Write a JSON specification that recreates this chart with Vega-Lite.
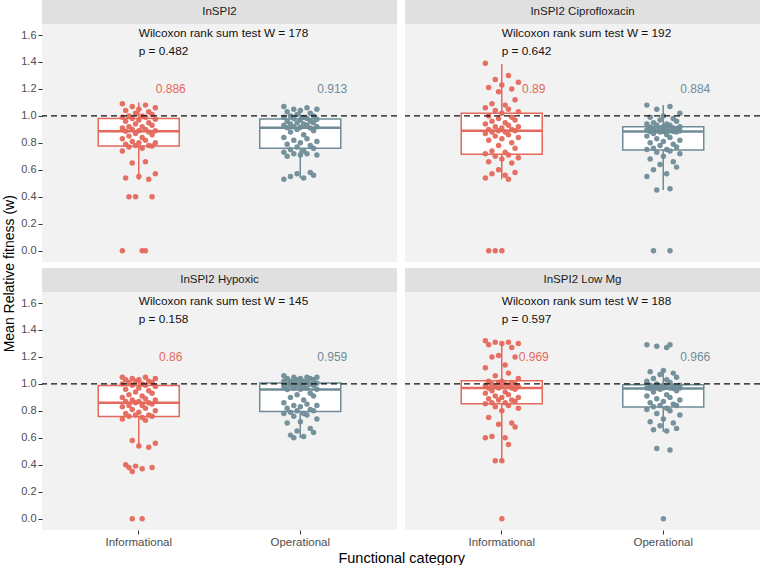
{
  "$schema": "https://vega.github.io/schema/vega-lite/v6.json",
  "padding": {"left": 2, "top": 0, "right": 2, "bottom": 0},
  "background": "white",
  "data": {"values": [
    {"k":"a","c":"InSPI2","f":"Informational","t1":"Wilcoxon rank sum test W = 178","t2":" p = 0.482"},
    {"k":"a","c":"InSPI2 Ciprofloxacin","f":"Informational","t1":"Wilcoxon rank sum test W = 192","t2":" p = 0.642"},
    {"k":"a","c":"InSPI2 Hypoxic","f":"Informational","t1":"Wilcoxon rank sum test W = 145","t2":" p = 0.158"},
    {"k":"a","c":"InSPI2 Low Mg","f":"Informational","t1":"Wilcoxon rank sum test W = 188","t2":" p = 0.597"},
    {"k":"b","c":"InSPI2","f":"Informational","lo":0.525,"q1":0.777,"med":0.886,"q3":0.98,"hi":1.1,"lab":"0.886"},
    {"k":"b","c":"InSPI2","f":"Operational","lo":0.537,"q1":0.76,"med":0.913,"q3":0.977,"hi":1.06,"lab":"0.913"},
    {"k":"b","c":"InSPI2 Ciprofloxacin","f":"Informational","lo":0.53,"q1":0.715,"med":0.89,"q3":1.02,"hi":1.385,"lab":"0.89"},
    {"k":"b","c":"InSPI2 Ciprofloxacin","f":"Operational","lo":0.45,"q1":0.747,"med":0.884,"q3":0.92,"hi":1.08,"lab":"0.884"},
    {"k":"b","c":"InSPI2 Hypoxic","f":"Informational","lo":0.529,"q1":0.759,"med":0.86,"q3":0.989,"hi":1.05,"lab":"0.86"},
    {"k":"b","c":"InSPI2 Hypoxic","f":"Operational","lo":0.599,"q1":0.796,"med":0.959,"q3":1.007,"hi":1.05,"lab":"0.959"},
    {"k":"b","c":"InSPI2 Low Mg","f":"Informational","lo":0.43,"q1":0.853,"med":0.969,"q3":1.024,"hi":1.315,"lab":"0.969"},
    {"k":"b","c":"InSPI2 Low Mg","f":"Operational","lo":0.645,"q1":0.829,"med":0.966,"q3":0.994,"hi":1.1,"lab":"0.966"},

    {"c":"InSPI2","f":"Informational","w":1.09,"j":0},{"c":"InSPI2","f":"Informational","w":1.08,"j":7},{"c":"InSPI2","f":"Informational","w":1.07,"j":3},{"c":"InSPI2","f":"Informational","w":1.06,"j":10},{"c":"InSPI2","f":"Informational","w":1.05,"j":5},{"c":"InSPI2","f":"Informational","w":1.04,"j":1},{"c":"InSPI2","f":"Informational","w":1.03,"j":8},{"c":"InSPI2","f":"Informational","w":1.02,"j":4},{"c":"InSPI2","f":"Informational","w":1.01,"j":9},{"c":"InSPI2","f":"Informational","w":1.0,"j":2},{"c":"InSPI2","f":"Informational","w":1.0,"j":6},
    {"c":"InSPI2","f":"Informational","w":0.99,"j":0},{"c":"InSPI2","f":"Informational","w":0.99,"j":7},{"c":"InSPI2","f":"Informational","w":0.98,"j":3},{"c":"InSPI2","f":"Informational","w":0.975,"j":10},{"c":"InSPI2","f":"Informational","w":0.97,"j":5},{"c":"InSPI2","f":"Informational","w":0.96,"j":1},{"c":"InSPI2","f":"Informational","w":0.95,"j":8},{"c":"InSPI2","f":"Informational","w":0.94,"j":4},{"c":"InSPI2","f":"Informational","w":0.93,"j":9},{"c":"InSPI2","f":"Informational","w":0.92,"j":2},{"c":"InSPI2","f":"Informational","w":0.92,"j":6},
    {"c":"InSPI2","f":"Informational","w":0.91,"j":0},{"c":"InSPI2","f":"Informational","w":0.9,"j":7},{"c":"InSPI2","f":"Informational","w":0.9,"j":3},{"c":"InSPI2","f":"Informational","w":0.89,"j":10},{"c":"InSPI2","f":"Informational","w":0.89,"j":5},{"c":"InSPI2","f":"Informational","w":0.886,"j":1},{"c":"InSPI2","f":"Informational","w":0.88,"j":8},{"c":"InSPI2","f":"Informational","w":0.87,"j":4},{"c":"InSPI2","f":"Informational","w":0.86,"j":9},{"c":"InSPI2","f":"Informational","w":0.85,"j":2},{"c":"InSPI2","f":"Informational","w":0.84,"j":6},
    {"c":"InSPI2","f":"Informational","w":0.83,"j":0},{"c":"InSPI2","f":"Informational","w":0.82,"j":7},{"c":"InSPI2","f":"Informational","w":0.81,"j":3},{"c":"InSPI2","f":"Informational","w":0.8,"j":10},{"c":"InSPI2","f":"Informational","w":0.8,"j":5},{"c":"InSPI2","f":"Informational","w":0.79,"j":1},{"c":"InSPI2","f":"Informational","w":0.78,"j":8},{"c":"InSPI2","f":"Informational","w":0.78,"j":4},{"c":"InSPI2","f":"Informational","w":0.777,"j":9},{"c":"InSPI2","f":"Informational","w":0.77,"j":2},{"c":"InSPI2","f":"Informational","w":0.76,"j":6},
    {"c":"InSPI2","f":"Informational","w":0.74,"j":0},{"c":"InSPI2","f":"Informational","w":0.66,"j":7},{"c":"InSPI2","f":"Informational","w":0.65,"j":3},{"c":"InSPI2","f":"Informational","w":0.57,"j":10},{"c":"InSPI2","f":"Informational","w":0.55,"j":5},{"c":"InSPI2","f":"Informational","w":0.54,"j":1},{"c":"InSPI2","f":"Informational","w":0.53,"j":8},{"c":"InSPI2","f":"Informational","w":0.4,"j":4},{"c":"InSPI2","f":"Informational","w":0.4,"j":9},{"c":"InSPI2","f":"Informational","w":0.4,"j":2},{"c":"InSPI2","f":"Informational","w":0.0,"j":6},
    {"c":"InSPI2","f":"Informational","w":0.0,"j":0},{"c":"InSPI2","f":"Informational","w":0.0,"j":7},

    {"c":"InSPI2","f":"Operational","w":1.07,"j":0},{"c":"InSPI2","f":"Operational","w":1.06,"j":7},{"c":"InSPI2","f":"Operational","w":1.05,"j":3},{"c":"InSPI2","f":"Operational","w":1.05,"j":10},{"c":"InSPI2","f":"Operational","w":1.04,"j":5},{"c":"InSPI2","f":"Operational","w":1.03,"j":1},{"c":"InSPI2","f":"Operational","w":1.02,"j":8},{"c":"InSPI2","f":"Operational","w":1.01,"j":4},{"c":"InSPI2","f":"Operational","w":1.0,"j":9},{"c":"InSPI2","f":"Operational","w":1.0,"j":2},{"c":"InSPI2","f":"Operational","w":0.99,"j":6},
    {"c":"InSPI2","f":"Operational","w":0.99,"j":0},{"c":"InSPI2","f":"Operational","w":0.98,"j":7},{"c":"InSPI2","f":"Operational","w":0.98,"j":3},{"c":"InSPI2","f":"Operational","w":0.975,"j":10},{"c":"InSPI2","f":"Operational","w":0.97,"j":5},{"c":"InSPI2","f":"Operational","w":0.96,"j":1},{"c":"InSPI2","f":"Operational","w":0.96,"j":8},{"c":"InSPI2","f":"Operational","w":0.95,"j":4},{"c":"InSPI2","f":"Operational","w":0.95,"j":9},{"c":"InSPI2","f":"Operational","w":0.94,"j":2},{"c":"InSPI2","f":"Operational","w":0.94,"j":6},
    {"c":"InSPI2","f":"Operational","w":0.93,"j":0},{"c":"InSPI2","f":"Operational","w":0.93,"j":7},{"c":"InSPI2","f":"Operational","w":0.92,"j":3},{"c":"InSPI2","f":"Operational","w":0.92,"j":10},{"c":"InSPI2","f":"Operational","w":0.915,"j":5},{"c":"InSPI2","f":"Operational","w":0.913,"j":1},{"c":"InSPI2","f":"Operational","w":0.91,"j":8},{"c":"InSPI2","f":"Operational","w":0.9,"j":4},{"c":"InSPI2","f":"Operational","w":0.89,"j":9},{"c":"InSPI2","f":"Operational","w":0.88,"j":2},{"c":"InSPI2","f":"Operational","w":0.86,"j":6},
    {"c":"InSPI2","f":"Operational","w":0.84,"j":0},{"c":"InSPI2","f":"Operational","w":0.83,"j":7},{"c":"InSPI2","f":"Operational","w":0.82,"j":3},{"c":"InSPI2","f":"Operational","w":0.81,"j":10},{"c":"InSPI2","f":"Operational","w":0.8,"j":5},{"c":"InSPI2","f":"Operational","w":0.79,"j":1},{"c":"InSPI2","f":"Operational","w":0.78,"j":8},{"c":"InSPI2","f":"Operational","w":0.77,"j":4},{"c":"InSPI2","f":"Operational","w":0.76,"j":9},{"c":"InSPI2","f":"Operational","w":0.75,"j":2},{"c":"InSPI2","f":"Operational","w":0.74,"j":6},
    {"c":"InSPI2","f":"Operational","w":0.73,"j":0},{"c":"InSPI2","f":"Operational","w":0.72,"j":7},{"c":"InSPI2","f":"Operational","w":0.72,"j":3},{"c":"InSPI2","f":"Operational","w":0.71,"j":10},{"c":"InSPI2","f":"Operational","w":0.71,"j":5},{"c":"InSPI2","f":"Operational","w":0.7,"j":1},{"c":"InSPI2","f":"Operational","w":0.58,"j":8},{"c":"InSPI2","f":"Operational","w":0.57,"j":4},{"c":"InSPI2","f":"Operational","w":0.56,"j":9},{"c":"InSPI2","f":"Operational","w":0.55,"j":2},{"c":"InSPI2","f":"Operational","w":0.54,"j":6},
    {"c":"InSPI2","f":"Operational","w":0.53,"j":0},

    {"c":"InSPI2 Ciprofloxacin","f":"Informational","w":1.39,"j":0},{"c":"InSPI2 Ciprofloxacin","f":"Informational","w":1.3,"j":7},{"c":"InSPI2 Ciprofloxacin","f":"Informational","w":1.27,"j":3},{"c":"InSPI2 Ciprofloxacin","f":"Informational","w":1.25,"j":10},{"c":"InSPI2 Ciprofloxacin","f":"Informational","w":1.23,"j":5},{"c":"InSPI2 Ciprofloxacin","f":"Informational","w":1.21,"j":1},{"c":"InSPI2 Ciprofloxacin","f":"Informational","w":1.2,"j":8},{"c":"InSPI2 Ciprofloxacin","f":"Informational","w":1.18,"j":4},{"c":"InSPI2 Ciprofloxacin","f":"Informational","w":1.12,"j":9},{"c":"InSPI2 Ciprofloxacin","f":"Informational","w":1.09,"j":2},{"c":"InSPI2 Ciprofloxacin","f":"Informational","w":1.08,"j":6},
    {"c":"InSPI2 Ciprofloxacin","f":"Informational","w":1.06,"j":0},{"c":"InSPI2 Ciprofloxacin","f":"Informational","w":1.05,"j":7},{"c":"InSPI2 Ciprofloxacin","f":"Informational","w":1.04,"j":3},{"c":"InSPI2 Ciprofloxacin","f":"Informational","w":1.03,"j":10},{"c":"InSPI2 Ciprofloxacin","f":"Informational","w":1.02,"j":5},{"c":"InSPI2 Ciprofloxacin","f":"Informational","w":1.0,"j":1},{"c":"InSPI2 Ciprofloxacin","f":"Informational","w":0.99,"j":8},{"c":"InSPI2 Ciprofloxacin","f":"Informational","w":0.98,"j":4},{"c":"InSPI2 Ciprofloxacin","f":"Informational","w":0.97,"j":9},{"c":"InSPI2 Ciprofloxacin","f":"Informational","w":0.96,"j":2},{"c":"InSPI2 Ciprofloxacin","f":"Informational","w":0.95,"j":6},
    {"c":"InSPI2 Ciprofloxacin","f":"Informational","w":0.94,"j":0},{"c":"InSPI2 Ciprofloxacin","f":"Informational","w":0.93,"j":7},{"c":"InSPI2 Ciprofloxacin","f":"Informational","w":0.92,"j":3},{"c":"InSPI2 Ciprofloxacin","f":"Informational","w":0.92,"j":10},{"c":"InSPI2 Ciprofloxacin","f":"Informational","w":0.91,"j":5},{"c":"InSPI2 Ciprofloxacin","f":"Informational","w":0.9,"j":1},{"c":"InSPI2 Ciprofloxacin","f":"Informational","w":0.9,"j":8},{"c":"InSPI2 Ciprofloxacin","f":"Informational","w":0.89,"j":4},{"c":"InSPI2 Ciprofloxacin","f":"Informational","w":0.89,"j":9},{"c":"InSPI2 Ciprofloxacin","f":"Informational","w":0.88,"j":2},{"c":"InSPI2 Ciprofloxacin","f":"Informational","w":0.88,"j":6},
    {"c":"InSPI2 Ciprofloxacin","f":"Informational","w":0.87,"j":0},{"c":"InSPI2 Ciprofloxacin","f":"Informational","w":0.86,"j":7},{"c":"InSPI2 Ciprofloxacin","f":"Informational","w":0.85,"j":3},{"c":"InSPI2 Ciprofloxacin","f":"Informational","w":0.84,"j":10},{"c":"InSPI2 Ciprofloxacin","f":"Informational","w":0.83,"j":5},{"c":"InSPI2 Ciprofloxacin","f":"Informational","w":0.82,"j":1},{"c":"InSPI2 Ciprofloxacin","f":"Informational","w":0.8,"j":8},{"c":"InSPI2 Ciprofloxacin","f":"Informational","w":0.78,"j":4},{"c":"InSPI2 Ciprofloxacin","f":"Informational","w":0.76,"j":9},{"c":"InSPI2 Ciprofloxacin","f":"Informational","w":0.74,"j":2},{"c":"InSPI2 Ciprofloxacin","f":"Informational","w":0.73,"j":6},
    {"c":"InSPI2 Ciprofloxacin","f":"Informational","w":0.72,"j":0},{"c":"InSPI2 Ciprofloxacin","f":"Informational","w":0.71,"j":7},{"c":"InSPI2 Ciprofloxacin","f":"Informational","w":0.7,"j":3},{"c":"InSPI2 Ciprofloxacin","f":"Informational","w":0.69,"j":10},{"c":"InSPI2 Ciprofloxacin","f":"Informational","w":0.68,"j":5},{"c":"InSPI2 Ciprofloxacin","f":"Informational","w":0.66,"j":1},{"c":"InSPI2 Ciprofloxacin","f":"Informational","w":0.65,"j":8},{"c":"InSPI2 Ciprofloxacin","f":"Informational","w":0.6,"j":4},{"c":"InSPI2 Ciprofloxacin","f":"Informational","w":0.58,"j":9},{"c":"InSPI2 Ciprofloxacin","f":"Informational","w":0.57,"j":2},{"c":"InSPI2 Ciprofloxacin","f":"Informational","w":0.56,"j":6},
    {"c":"InSPI2 Ciprofloxacin","f":"Informational","w":0.54,"j":0},{"c":"InSPI2 Ciprofloxacin","f":"Informational","w":0.53,"j":7},{"c":"InSPI2 Ciprofloxacin","f":"Informational","w":0.0,"j":3},{"c":"InSPI2 Ciprofloxacin","f":"Informational","w":0.0,"j":1},{"c":"InSPI2 Ciprofloxacin","f":"Informational","w":0.0,"j":5},

    {"c":"InSPI2 Ciprofloxacin","f":"Operational","w":1.08,"j":0},{"c":"InSPI2 Ciprofloxacin","f":"Operational","w":1.07,"j":7},{"c":"InSPI2 Ciprofloxacin","f":"Operational","w":1.05,"j":3},{"c":"InSPI2 Ciprofloxacin","f":"Operational","w":1.02,"j":10},{"c":"InSPI2 Ciprofloxacin","f":"Operational","w":1.0,"j":5},{"c":"InSPI2 Ciprofloxacin","f":"Operational","w":0.99,"j":1},{"c":"InSPI2 Ciprofloxacin","f":"Operational","w":0.98,"j":8},{"c":"InSPI2 Ciprofloxacin","f":"Operational","w":0.97,"j":4},{"c":"InSPI2 Ciprofloxacin","f":"Operational","w":0.96,"j":9},{"c":"InSPI2 Ciprofloxacin","f":"Operational","w":0.95,"j":2},{"c":"InSPI2 Ciprofloxacin","f":"Operational","w":0.94,"j":6},
    {"c":"InSPI2 Ciprofloxacin","f":"Operational","w":0.94,"j":0},{"c":"InSPI2 Ciprofloxacin","f":"Operational","w":0.93,"j":7},{"c":"InSPI2 Ciprofloxacin","f":"Operational","w":0.93,"j":3},{"c":"InSPI2 Ciprofloxacin","f":"Operational","w":0.92,"j":10},{"c":"InSPI2 Ciprofloxacin","f":"Operational","w":0.92,"j":5},{"c":"InSPI2 Ciprofloxacin","f":"Operational","w":0.915,"j":1},{"c":"InSPI2 Ciprofloxacin","f":"Operational","w":0.91,"j":8},{"c":"InSPI2 Ciprofloxacin","f":"Operational","w":0.91,"j":4},{"c":"InSPI2 Ciprofloxacin","f":"Operational","w":0.905,"j":9},{"c":"InSPI2 Ciprofloxacin","f":"Operational","w":0.9,"j":2},{"c":"InSPI2 Ciprofloxacin","f":"Operational","w":0.9,"j":6},
    {"c":"InSPI2 Ciprofloxacin","f":"Operational","w":0.895,"j":0},{"c":"InSPI2 Ciprofloxacin","f":"Operational","w":0.89,"j":7},{"c":"InSPI2 Ciprofloxacin","f":"Operational","w":0.89,"j":3},{"c":"InSPI2 Ciprofloxacin","f":"Operational","w":0.89,"j":10},{"c":"InSPI2 Ciprofloxacin","f":"Operational","w":0.885,"j":5},{"c":"InSPI2 Ciprofloxacin","f":"Operational","w":0.885,"j":1},{"c":"InSPI2 Ciprofloxacin","f":"Operational","w":0.884,"j":8},{"c":"InSPI2 Ciprofloxacin","f":"Operational","w":0.88,"j":4},{"c":"InSPI2 Ciprofloxacin","f":"Operational","w":0.88,"j":9},{"c":"InSPI2 Ciprofloxacin","f":"Operational","w":0.87,"j":2},{"c":"InSPI2 Ciprofloxacin","f":"Operational","w":0.86,"j":6},
    {"c":"InSPI2 Ciprofloxacin","f":"Operational","w":0.85,"j":0},{"c":"InSPI2 Ciprofloxacin","f":"Operational","w":0.84,"j":7},{"c":"InSPI2 Ciprofloxacin","f":"Operational","w":0.83,"j":3},{"c":"InSPI2 Ciprofloxacin","f":"Operational","w":0.82,"j":10},{"c":"InSPI2 Ciprofloxacin","f":"Operational","w":0.81,"j":5},{"c":"InSPI2 Ciprofloxacin","f":"Operational","w":0.8,"j":1},{"c":"InSPI2 Ciprofloxacin","f":"Operational","w":0.79,"j":8},{"c":"InSPI2 Ciprofloxacin","f":"Operational","w":0.78,"j":4},{"c":"InSPI2 Ciprofloxacin","f":"Operational","w":0.77,"j":9},{"c":"InSPI2 Ciprofloxacin","f":"Operational","w":0.76,"j":2},{"c":"InSPI2 Ciprofloxacin","f":"Operational","w":0.75,"j":6},
    {"c":"InSPI2 Ciprofloxacin","f":"Operational","w":0.75,"j":0},{"c":"InSPI2 Ciprofloxacin","f":"Operational","w":0.74,"j":7},{"c":"InSPI2 Ciprofloxacin","f":"Operational","w":0.73,"j":3},{"c":"InSPI2 Ciprofloxacin","f":"Operational","w":0.72,"j":10},{"c":"InSPI2 Ciprofloxacin","f":"Operational","w":0.7,"j":5},{"c":"InSPI2 Ciprofloxacin","f":"Operational","w":0.68,"j":1},{"c":"InSPI2 Ciprofloxacin","f":"Operational","w":0.66,"j":8},{"c":"InSPI2 Ciprofloxacin","f":"Operational","w":0.64,"j":4},{"c":"InSPI2 Ciprofloxacin","f":"Operational","w":0.62,"j":9},{"c":"InSPI2 Ciprofloxacin","f":"Operational","w":0.6,"j":2},{"c":"InSPI2 Ciprofloxacin","f":"Operational","w":0.57,"j":6},
    {"c":"InSPI2 Ciprofloxacin","f":"Operational","w":0.55,"j":0},{"c":"InSPI2 Ciprofloxacin","f":"Operational","w":0.46,"j":7},{"c":"InSPI2 Ciprofloxacin","f":"Operational","w":0.45,"j":3},{"c":"InSPI2 Ciprofloxacin","f":"Operational","w":0.0,"j":2},{"c":"InSPI2 Ciprofloxacin","f":"Operational","w":0.0,"j":7},

    {"c":"InSPI2 Hypoxic","f":"Informational","w":1.05,"j":0},{"c":"InSPI2 Hypoxic","f":"Informational","w":1.05,"j":7},{"c":"InSPI2 Hypoxic","f":"Informational","w":1.04,"j":3},{"c":"InSPI2 Hypoxic","f":"Informational","w":1.04,"j":10},{"c":"InSPI2 Hypoxic","f":"Informational","w":1.03,"j":5},{"c":"InSPI2 Hypoxic","f":"Informational","w":1.03,"j":1},{"c":"InSPI2 Hypoxic","f":"Informational","w":1.02,"j":8},{"c":"InSPI2 Hypoxic","f":"Informational","w":1.02,"j":4},{"c":"InSPI2 Hypoxic","f":"Informational","w":1.01,"j":9},{"c":"InSPI2 Hypoxic","f":"Informational","w":1.01,"j":2},{"c":"InSPI2 Hypoxic","f":"Informational","w":1.0,"j":6},
    {"c":"InSPI2 Hypoxic","f":"Informational","w":1.0,"j":0},{"c":"InSPI2 Hypoxic","f":"Informational","w":0.99,"j":7},{"c":"InSPI2 Hypoxic","f":"Informational","w":0.99,"j":3},{"c":"InSPI2 Hypoxic","f":"Informational","w":0.98,"j":10},{"c":"InSPI2 Hypoxic","f":"Informational","w":0.97,"j":5},{"c":"InSPI2 Hypoxic","f":"Informational","w":0.96,"j":1},{"c":"InSPI2 Hypoxic","f":"Informational","w":0.95,"j":8},{"c":"InSPI2 Hypoxic","f":"Informational","w":0.94,"j":4},{"c":"InSPI2 Hypoxic","f":"Informational","w":0.93,"j":9},{"c":"InSPI2 Hypoxic","f":"Informational","w":0.92,"j":2},{"c":"InSPI2 Hypoxic","f":"Informational","w":0.91,"j":6},
    {"c":"InSPI2 Hypoxic","f":"Informational","w":0.9,"j":0},{"c":"InSPI2 Hypoxic","f":"Informational","w":0.89,"j":7},{"c":"InSPI2 Hypoxic","f":"Informational","w":0.88,"j":3},{"c":"InSPI2 Hypoxic","f":"Informational","w":0.88,"j":10},{"c":"InSPI2 Hypoxic","f":"Informational","w":0.87,"j":5},{"c":"InSPI2 Hypoxic","f":"Informational","w":0.87,"j":1},{"c":"InSPI2 Hypoxic","f":"Informational","w":0.86,"j":8},{"c":"InSPI2 Hypoxic","f":"Informational","w":0.86,"j":4},{"c":"InSPI2 Hypoxic","f":"Informational","w":0.85,"j":9},{"c":"InSPI2 Hypoxic","f":"Informational","w":0.84,"j":2},{"c":"InSPI2 Hypoxic","f":"Informational","w":0.84,"j":6},
    {"c":"InSPI2 Hypoxic","f":"Informational","w":0.83,"j":0},{"c":"InSPI2 Hypoxic","f":"Informational","w":0.82,"j":7},{"c":"InSPI2 Hypoxic","f":"Informational","w":0.81,"j":3},{"c":"InSPI2 Hypoxic","f":"Informational","w":0.8,"j":10},{"c":"InSPI2 Hypoxic","f":"Informational","w":0.79,"j":5},{"c":"InSPI2 Hypoxic","f":"Informational","w":0.78,"j":1},{"c":"InSPI2 Hypoxic","f":"Informational","w":0.77,"j":8},{"c":"InSPI2 Hypoxic","f":"Informational","w":0.77,"j":4},{"c":"InSPI2 Hypoxic","f":"Informational","w":0.76,"j":9},{"c":"InSPI2 Hypoxic","f":"Informational","w":0.76,"j":2},{"c":"InSPI2 Hypoxic","f":"Informational","w":0.75,"j":6},
    {"c":"InSPI2 Hypoxic","f":"Informational","w":0.74,"j":0},{"c":"InSPI2 Hypoxic","f":"Informational","w":0.73,"j":7},{"c":"InSPI2 Hypoxic","f":"Informational","w":0.58,"j":3},{"c":"InSPI2 Hypoxic","f":"Informational","w":0.56,"j":10},{"c":"InSPI2 Hypoxic","f":"Informational","w":0.54,"j":5},{"c":"InSPI2 Hypoxic","f":"Informational","w":0.53,"j":8},{"c":"InSPI2 Hypoxic","f":"Informational","w":0.4,"j":1},{"c":"InSPI2 Hypoxic","f":"Informational","w":0.39,"j":4},{"c":"InSPI2 Hypoxic","f":"Informational","w":0.38,"j":9},{"c":"InSPI2 Hypoxic","f":"Informational","w":0.38,"j":2},{"c":"InSPI2 Hypoxic","f":"Informational","w":0.37,"j":6},
    {"c":"InSPI2 Hypoxic","f":"Informational","w":0.35,"j":3},{"c":"InSPI2 Hypoxic","f":"Informational","w":0.0,"j":3},{"c":"InSPI2 Hypoxic","f":"Informational","w":0.0,"j":6},

    {"c":"InSPI2 Hypoxic","f":"Operational","w":1.06,"j":0},{"c":"InSPI2 Hypoxic","f":"Operational","w":1.05,"j":7},{"c":"InSPI2 Hypoxic","f":"Operational","w":1.05,"j":3},{"c":"InSPI2 Hypoxic","f":"Operational","w":1.05,"j":10},{"c":"InSPI2 Hypoxic","f":"Operational","w":1.04,"j":5},{"c":"InSPI2 Hypoxic","f":"Operational","w":1.04,"j":1},{"c":"InSPI2 Hypoxic","f":"Operational","w":1.04,"j":8},{"c":"InSPI2 Hypoxic","f":"Operational","w":1.03,"j":4},{"c":"InSPI2 Hypoxic","f":"Operational","w":1.03,"j":9},{"c":"InSPI2 Hypoxic","f":"Operational","w":1.02,"j":2},{"c":"InSPI2 Hypoxic","f":"Operational","w":1.02,"j":6},
    {"c":"InSPI2 Hypoxic","f":"Operational","w":1.02,"j":0},{"c":"InSPI2 Hypoxic","f":"Operational","w":1.01,"j":7},{"c":"InSPI2 Hypoxic","f":"Operational","w":1.01,"j":3},{"c":"InSPI2 Hypoxic","f":"Operational","w":1.005,"j":10},{"c":"InSPI2 Hypoxic","f":"Operational","w":1.0,"j":5},{"c":"InSPI2 Hypoxic","f":"Operational","w":1.0,"j":1},{"c":"InSPI2 Hypoxic","f":"Operational","w":1.0,"j":8},{"c":"InSPI2 Hypoxic","f":"Operational","w":0.99,"j":4},{"c":"InSPI2 Hypoxic","f":"Operational","w":0.99,"j":9},{"c":"InSPI2 Hypoxic","f":"Operational","w":0.99,"j":2},{"c":"InSPI2 Hypoxic","f":"Operational","w":0.98,"j":6},
    {"c":"InSPI2 Hypoxic","f":"Operational","w":0.98,"j":0},{"c":"InSPI2 Hypoxic","f":"Operational","w":0.97,"j":7},{"c":"InSPI2 Hypoxic","f":"Operational","w":0.97,"j":3},{"c":"InSPI2 Hypoxic","f":"Operational","w":0.96,"j":10},{"c":"InSPI2 Hypoxic","f":"Operational","w":0.96,"j":5},{"c":"InSPI2 Hypoxic","f":"Operational","w":0.959,"j":1},{"c":"InSPI2 Hypoxic","f":"Operational","w":0.93,"j":8},{"c":"InSPI2 Hypoxic","f":"Operational","w":0.92,"j":4},{"c":"InSPI2 Hypoxic","f":"Operational","w":0.91,"j":9},{"c":"InSPI2 Hypoxic","f":"Operational","w":0.9,"j":2},{"c":"InSPI2 Hypoxic","f":"Operational","w":0.88,"j":6},
    {"c":"InSPI2 Hypoxic","f":"Operational","w":0.86,"j":0},{"c":"InSPI2 Hypoxic","f":"Operational","w":0.85,"j":7},{"c":"InSPI2 Hypoxic","f":"Operational","w":0.84,"j":3},{"c":"InSPI2 Hypoxic","f":"Operational","w":0.84,"j":10},{"c":"InSPI2 Hypoxic","f":"Operational","w":0.83,"j":5},{"c":"InSPI2 Hypoxic","f":"Operational","w":0.82,"j":1},{"c":"InSPI2 Hypoxic","f":"Operational","w":0.81,"j":8},{"c":"InSPI2 Hypoxic","f":"Operational","w":0.8,"j":4},{"c":"InSPI2 Hypoxic","f":"Operational","w":0.8,"j":9},{"c":"InSPI2 Hypoxic","f":"Operational","w":0.79,"j":2},{"c":"InSPI2 Hypoxic","f":"Operational","w":0.78,"j":6},
    {"c":"InSPI2 Hypoxic","f":"Operational","w":0.78,"j":0},{"c":"InSPI2 Hypoxic","f":"Operational","w":0.77,"j":7},{"c":"InSPI2 Hypoxic","f":"Operational","w":0.76,"j":3},{"c":"InSPI2 Hypoxic","f":"Operational","w":0.74,"j":10},{"c":"InSPI2 Hypoxic","f":"Operational","w":0.72,"j":5},{"c":"InSPI2 Hypoxic","f":"Operational","w":0.71,"j":1},{"c":"InSPI2 Hypoxic","f":"Operational","w":0.67,"j":8},{"c":"InSPI2 Hypoxic","f":"Operational","w":0.65,"j":4},{"c":"InSPI2 Hypoxic","f":"Operational","w":0.64,"j":9},{"c":"InSPI2 Hypoxic","f":"Operational","w":0.62,"j":2},{"c":"InSPI2 Hypoxic","f":"Operational","w":0.61,"j":6},
    {"c":"InSPI2 Hypoxic","f":"Operational","w":0.6,"j":3},

    {"c":"InSPI2 Low Mg","f":"Informational","w":1.32,"j":0},{"c":"InSPI2 Low Mg","f":"Informational","w":1.31,"j":7},{"c":"InSPI2 Low Mg","f":"Informational","w":1.31,"j":3},{"c":"InSPI2 Low Mg","f":"Informational","w":1.3,"j":10},{"c":"InSPI2 Low Mg","f":"Informational","w":1.3,"j":5},{"c":"InSPI2 Low Mg","f":"Informational","w":1.29,"j":1},{"c":"InSPI2 Low Mg","f":"Informational","w":1.27,"j":8},{"c":"InSPI2 Low Mg","f":"Informational","w":1.21,"j":4},{"c":"InSPI2 Low Mg","f":"Informational","w":1.2,"j":9},{"c":"InSPI2 Low Mg","f":"Informational","w":1.2,"j":2},{"c":"InSPI2 Low Mg","f":"Informational","w":1.14,"j":6},
    {"c":"InSPI2 Low Mg","f":"Informational","w":1.12,"j":0},{"c":"InSPI2 Low Mg","f":"Informational","w":1.08,"j":7},{"c":"InSPI2 Low Mg","f":"Informational","w":1.06,"j":3},{"c":"InSPI2 Low Mg","f":"Informational","w":1.04,"j":10},{"c":"InSPI2 Low Mg","f":"Informational","w":1.02,"j":5},{"c":"InSPI2 Low Mg","f":"Informational","w":1.02,"j":1},{"c":"InSPI2 Low Mg","f":"Informational","w":1.01,"j":8},{"c":"InSPI2 Low Mg","f":"Informational","w":1.01,"j":4},{"c":"InSPI2 Low Mg","f":"Informational","w":1.0,"j":9},{"c":"InSPI2 Low Mg","f":"Informational","w":1.0,"j":2},{"c":"InSPI2 Low Mg","f":"Informational","w":1.0,"j":6},
    {"c":"InSPI2 Low Mg","f":"Informational","w":0.99,"j":0},{"c":"InSPI2 Low Mg","f":"Informational","w":0.99,"j":7},{"c":"InSPI2 Low Mg","f":"Informational","w":0.98,"j":3},{"c":"InSPI2 Low Mg","f":"Informational","w":0.98,"j":10},{"c":"InSPI2 Low Mg","f":"Informational","w":0.98,"j":5},{"c":"InSPI2 Low Mg","f":"Informational","w":0.97,"j":1},{"c":"InSPI2 Low Mg","f":"Informational","w":0.97,"j":8},{"c":"InSPI2 Low Mg","f":"Informational","w":0.969,"j":4},{"c":"InSPI2 Low Mg","f":"Informational","w":0.96,"j":9},{"c":"InSPI2 Low Mg","f":"Informational","w":0.95,"j":2},{"c":"InSPI2 Low Mg","f":"Informational","w":0.94,"j":6},
    {"c":"InSPI2 Low Mg","f":"Informational","w":0.93,"j":0},{"c":"InSPI2 Low Mg","f":"Informational","w":0.92,"j":7},{"c":"InSPI2 Low Mg","f":"Informational","w":0.91,"j":3},{"c":"InSPI2 Low Mg","f":"Informational","w":0.9,"j":10},{"c":"InSPI2 Low Mg","f":"Informational","w":0.9,"j":5},{"c":"InSPI2 Low Mg","f":"Informational","w":0.89,"j":1},{"c":"InSPI2 Low Mg","f":"Informational","w":0.88,"j":8},{"c":"InSPI2 Low Mg","f":"Informational","w":0.88,"j":4},{"c":"InSPI2 Low Mg","f":"Informational","w":0.87,"j":9},{"c":"InSPI2 Low Mg","f":"Informational","w":0.86,"j":2},{"c":"InSPI2 Low Mg","f":"Informational","w":0.86,"j":6},
    {"c":"InSPI2 Low Mg","f":"Informational","w":0.853,"j":0},{"c":"InSPI2 Low Mg","f":"Informational","w":0.84,"j":7},{"c":"InSPI2 Low Mg","f":"Informational","w":0.83,"j":3},{"c":"InSPI2 Low Mg","f":"Informational","w":0.82,"j":10},{"c":"InSPI2 Low Mg","f":"Informational","w":0.8,"j":5},{"c":"InSPI2 Low Mg","f":"Informational","w":0.75,"j":1},{"c":"InSPI2 Low Mg","f":"Informational","w":0.71,"j":8},{"c":"InSPI2 Low Mg","f":"Informational","w":0.7,"j":4},{"c":"InSPI2 Low Mg","f":"Informational","w":0.68,"j":9},{"c":"InSPI2 Low Mg","f":"Informational","w":0.61,"j":2},{"c":"InSPI2 Low Mg","f":"Informational","w":0.6,"j":6},
    {"c":"InSPI2 Low Mg","f":"Informational","w":0.6,"j":0},{"c":"InSPI2 Low Mg","f":"Informational","w":0.55,"j":7},{"c":"InSPI2 Low Mg","f":"Informational","w":0.43,"j":3},{"c":"InSPI2 Low Mg","f":"Informational","w":0.43,"j":5},{"c":"InSPI2 Low Mg","f":"Informational","w":0.0,"j":5},

    {"c":"InSPI2 Low Mg","f":"Operational","w":1.29,"j":0},{"c":"InSPI2 Low Mg","f":"Operational","w":1.29,"j":7},{"c":"InSPI2 Low Mg","f":"Operational","w":1.28,"j":3},{"c":"InSPI2 Low Mg","f":"Operational","w":1.27,"j":6},{"c":"InSPI2 Low Mg","f":"Operational","w":1.1,"j":5},{"c":"InSPI2 Low Mg","f":"Operational","w":1.09,"j":1},{"c":"InSPI2 Low Mg","f":"Operational","w":1.08,"j":8},{"c":"InSPI2 Low Mg","f":"Operational","w":1.07,"j":4},{"c":"InSPI2 Low Mg","f":"Operational","w":1.05,"j":9},{"c":"InSPI2 Low Mg","f":"Operational","w":1.04,"j":2},{"c":"InSPI2 Low Mg","f":"Operational","w":1.03,"j":6},
    {"c":"InSPI2 Low Mg","f":"Operational","w":1.02,"j":0},{"c":"InSPI2 Low Mg","f":"Operational","w":1.01,"j":7},{"c":"InSPI2 Low Mg","f":"Operational","w":1.0,"j":3},{"c":"InSPI2 Low Mg","f":"Operational","w":0.99,"j":10},{"c":"InSPI2 Low Mg","f":"Operational","w":0.99,"j":5},{"c":"InSPI2 Low Mg","f":"Operational","w":0.99,"j":1},{"c":"InSPI2 Low Mg","f":"Operational","w":0.985,"j":8},{"c":"InSPI2 Low Mg","f":"Operational","w":0.98,"j":4},{"c":"InSPI2 Low Mg","f":"Operational","w":0.98,"j":9},{"c":"InSPI2 Low Mg","f":"Operational","w":0.98,"j":2},{"c":"InSPI2 Low Mg","f":"Operational","w":0.975,"j":6},
    {"c":"InSPI2 Low Mg","f":"Operational","w":0.97,"j":0},{"c":"InSPI2 Low Mg","f":"Operational","w":0.97,"j":7},{"c":"InSPI2 Low Mg","f":"Operational","w":0.97,"j":3},{"c":"InSPI2 Low Mg","f":"Operational","w":0.97,"j":10},{"c":"InSPI2 Low Mg","f":"Operational","w":0.97,"j":5},{"c":"InSPI2 Low Mg","f":"Operational","w":0.966,"j":1},{"c":"InSPI2 Low Mg","f":"Operational","w":0.966,"j":8},{"c":"InSPI2 Low Mg","f":"Operational","w":0.96,"j":4},{"c":"InSPI2 Low Mg","f":"Operational","w":0.95,"j":9},{"c":"InSPI2 Low Mg","f":"Operational","w":0.94,"j":2},{"c":"InSPI2 Low Mg","f":"Operational","w":0.92,"j":6},
    {"c":"InSPI2 Low Mg","f":"Operational","w":0.91,"j":0},{"c":"InSPI2 Low Mg","f":"Operational","w":0.9,"j":7},{"c":"InSPI2 Low Mg","f":"Operational","w":0.89,"j":3},{"c":"InSPI2 Low Mg","f":"Operational","w":0.88,"j":10},{"c":"InSPI2 Low Mg","f":"Operational","w":0.87,"j":5},{"c":"InSPI2 Low Mg","f":"Operational","w":0.86,"j":1},{"c":"InSPI2 Low Mg","f":"Operational","w":0.85,"j":8},{"c":"InSPI2 Low Mg","f":"Operational","w":0.84,"j":4},{"c":"InSPI2 Low Mg","f":"Operational","w":0.84,"j":9},{"c":"InSPI2 Low Mg","f":"Operational","w":0.83,"j":2},{"c":"InSPI2 Low Mg","f":"Operational","w":0.82,"j":6},
    {"c":"InSPI2 Low Mg","f":"Operational","w":0.81,"j":0},{"c":"InSPI2 Low Mg","f":"Operational","w":0.8,"j":7},{"c":"InSPI2 Low Mg","f":"Operational","w":0.78,"j":3},{"c":"InSPI2 Low Mg","f":"Operational","w":0.77,"j":10},{"c":"InSPI2 Low Mg","f":"Operational","w":0.74,"j":5},{"c":"InSPI2 Low Mg","f":"Operational","w":0.72,"j":1},{"c":"InSPI2 Low Mg","f":"Operational","w":0.71,"j":8},{"c":"InSPI2 Low Mg","f":"Operational","w":0.69,"j":4},{"c":"InSPI2 Low Mg","f":"Operational","w":0.67,"j":9},{"c":"InSPI2 Low Mg","f":"Operational","w":0.66,"j":2},{"c":"InSPI2 Low Mg","f":"Operational","w":0.65,"j":6},
    {"c":"InSPI2 Low Mg","f":"Operational","w":0.52,"j":3},{"c":"InSPI2 Low Mg","f":"Operational","w":0.51,"j":7},{"c":"InSPI2 Low Mg","f":"Operational","w":0.0,"j":5}
  ]},
  "title": {"text": "Functional category", "orient": "bottom", "anchor": "middle", "dx": 20, "offset": 4, "fontSize": 14.5, "fontWeight": "normal", "color": "#000000"},
  "vconcat": [
    {
      "title": {"text": "Mean Relative fitness (w)", "orient": "left", "anchor": "middle", "offset": 4, "fontSize": 14, "fontWeight": "normal", "color": "#000000"},
      "spacing": 6,
      "vconcat": [
        {
          "spacing": 6,
          "hconcat": [
            {
              "width": 355, "height": 262,
              "transform": [{"filter": "datum.c === 'InSPI2'"}],
              "resolve": {"scale": {"xOffset": "independent"}},
              "layer": [
                {"transform": [{"filter": "datum.k === 'a'"}], "mark": {"type": "rect", "fill": "#E0E0E0"},
                 "encoding": {"y": {"datum": 1.682, "type": "quantitative", "axis": {"title": null, "values": [0, 0.2, 0.4, 0.6, 0.8, 1, 1.2, 1.4, 1.6], "format": ".1f"}}, "y2": {"datum": 1.86}}},
                {"transform": [{"filter": "datum.k === 'b'"}], "mark": {"type": "rule", "strokeWidth": 1.5},
                 "encoding": {"x": {"field": "f", "type": "nominal", "axis": null}, "y": {"field": "lo", "type": "quantitative", "axis": {"title": null, "values": [0, 0.2, 0.4, 0.6, 0.8, 1, 1.2, 1.4, 1.6], "format": ".1f"}}, "y2": {"field": "hi"}, "color": {"field": "f", "type": "nominal", "legend": null}}},
                {"transform": [{"filter": "datum.k === 'b'"}], "mark": {"type": "bar", "fill": "white", "strokeWidth": 1.5, "width": 81},
                 "encoding": {"x": {"field": "f", "type": "nominal", "axis": null}, "y": {"field": "q1", "type": "quantitative", "axis": {"title": null, "values": [0, 0.2, 0.4, 0.6, 0.8, 1, 1.2, 1.4, 1.6], "format": ".1f"}}, "y2": {"field": "q3"}, "stroke": {"field": "f", "type": "nominal", "legend": null}}},
                {"transform": [{"filter": "datum.k === 'b'"}], "mark": {"type": "bar", "fill": null, "strokeWidth": 2.5, "width": 81},
                 "encoding": {"x": {"field": "f", "type": "nominal", "axis": null}, "y": {"field": "med", "type": "quantitative", "axis": {"title": null, "values": [0, 0.2, 0.4, 0.6, 0.8, 1, 1.2, 1.4, 1.6], "format": ".1f"}}, "y2": {"field": "med"}, "stroke": {"field": "f", "type": "nominal", "legend": null}}},
                {"transform": [{"filter": "isValid(datum.w)"}], "mark": {"type": "circle", "size": 30, "opacity": 0.95},
                 "encoding": {
                   "x": {"field": "f", "type": "nominal", "axis": null, "scale": {"type": "band", "domain": ["Informational", "Operational"], "paddingInner": 0.5, "paddingOuter": 0.349}},
                   "xOffset": {"field": "j", "type": "quantitative", "scale": {"domain": [0, 10], "range": [24, 57]}},
                   "y": {"field": "w", "type": "quantitative", "scale": {"domain": [-0.084, 1.86], "nice": false, "zero": false},
                         "axis": {"title": null, "values": [0, 0.2, 0.4, 0.6, 0.8, 1, 1.2, 1.4, 1.6], "format": ".1f"}},
                   "color": {"field": "f", "type": "nominal", "legend": null}}},
                {"transform": [{"filter": "datum.k === 'a'"}], "mark": {"type": "rule", "color": "#111111", "strokeWidth": 1.3, "strokeDash": [6, 4]},
                 "encoding": {"y": {"datum": 1, "type": "quantitative", "axis": {"title": null, "values": [0, 0.2, 0.4, 0.6, 0.8, 1, 1.2, 1.4, 1.6], "format": ".1f"}}}},
                {"transform": [{"filter": "datum.k === 'b'"}], "mark": {"type": "text", "fontSize": 12, "dx": 32, "align": "center", "baseline": "middle"},
                 "encoding": {"x": {"field": "f", "type": "nominal", "axis": null}, "y": {"datum": 1.2, "type": "quantitative", "axis": {"title": null, "values": [0, 0.2, 0.4, 0.6, 0.8, 1, 1.2, 1.4, 1.6], "format": ".1f"}}, "text": {"field": "lab"}, "color": {"field": "f", "type": "nominal", "legend": null}}},
                {"transform": [{"filter": "datum.k === 'a'"}], "mark": {"type": "text", "fontSize": 11.8, "align": "left", "baseline": "middle", "color": "#111111"},
                 "encoding": {"x": {"field": "f", "type": "nominal", "axis": null}, "y": {"datum": 1.615, "type": "quantitative", "axis": {"title": null, "values": [0, 0.2, 0.4, 0.6, 0.8, 1, 1.2, 1.4, 1.6], "format": ".1f"}}, "text": {"field": "t1"}}},
                {"transform": [{"filter": "datum.k === 'a'"}], "mark": {"type": "text", "fontSize": 11.8, "align": "left", "baseline": "middle", "color": "#111111"},
                 "encoding": {"x": {"field": "f", "type": "nominal", "axis": null}, "y": {"datum": 1.484, "type": "quantitative", "axis": {"title": null, "values": [0, 0.2, 0.4, 0.6, 0.8, 1, 1.2, 1.4, 1.6], "format": ".1f"}}, "text": {"field": "t2"}}},
                {"transform": [{"filter": "datum.k === 'a'"}], "mark": {"type": "text", "fontSize": 11.5, "align": "center", "baseline": "middle", "color": "#1A1A1A"},
                 "encoding": {"y": {"datum": 1.771, "type": "quantitative", "axis": {"title": null, "values": [0, 0.2, 0.4, 0.6, 0.8, 1, 1.2, 1.4, 1.6], "format": ".1f"}}, "text": {"field": "c"}}}
              ]
            },
            {
              "width": 355, "height": 262,
              "transform": [{"filter": "datum.c === 'InSPI2 Ciprofloxacin'"}],
              "resolve": {"scale": {"xOffset": "independent"}},
              "layer": [
                {"transform": [{"filter": "datum.k === 'a'"}], "mark": {"type": "rect", "fill": "#E0E0E0"},
                 "encoding": {"y": {"datum": 1.682, "type": "quantitative", "axis": null}, "y2": {"datum": 1.86}}},
                {"transform": [{"filter": "datum.k === 'b'"}], "mark": {"type": "rule", "strokeWidth": 1.5},
                 "encoding": {"x": {"field": "f", "type": "nominal", "axis": null}, "y": {"field": "lo", "type": "quantitative", "axis": null}, "y2": {"field": "hi"}, "color": {"field": "f", "type": "nominal", "legend": null}}},
                {"transform": [{"filter": "datum.k === 'b'"}], "mark": {"type": "bar", "fill": "white", "strokeWidth": 1.5, "width": 81},
                 "encoding": {"x": {"field": "f", "type": "nominal", "axis": null}, "y": {"field": "q1", "type": "quantitative", "axis": null}, "y2": {"field": "q3"}, "stroke": {"field": "f", "type": "nominal", "legend": null}}},
                {"transform": [{"filter": "datum.k === 'b'"}], "mark": {"type": "bar", "fill": null, "strokeWidth": 2.5, "width": 81},
                 "encoding": {"x": {"field": "f", "type": "nominal", "axis": null}, "y": {"field": "med", "type": "quantitative", "axis": null}, "y2": {"field": "med"}, "stroke": {"field": "f", "type": "nominal", "legend": null}}},
                {"transform": [{"filter": "isValid(datum.w)"}], "mark": {"type": "circle", "size": 30, "opacity": 0.95},
                 "encoding": {
                   "x": {"field": "f", "type": "nominal", "axis": null, "scale": {"type": "band", "domain": ["Informational", "Operational"], "paddingInner": 0.5, "paddingOuter": 0.349}},
                   "xOffset": {"field": "j", "type": "quantitative", "scale": {"domain": [0, 10], "range": [24, 57]}},
                   "y": {"field": "w", "type": "quantitative", "scale": {"domain": [-0.084, 1.86], "nice": false, "zero": false}, "axis": null},
                   "color": {"field": "f", "type": "nominal", "legend": null}}},
                {"transform": [{"filter": "datum.k === 'a'"}], "mark": {"type": "rule", "color": "#111111", "strokeWidth": 1.3, "strokeDash": [6, 4]},
                 "encoding": {"y": {"datum": 1, "type": "quantitative", "axis": null}}},
                {"transform": [{"filter": "datum.k === 'b'"}], "mark": {"type": "text", "fontSize": 12, "dx": 32, "align": "center", "baseline": "middle"},
                 "encoding": {"x": {"field": "f", "type": "nominal", "axis": null}, "y": {"datum": 1.2, "type": "quantitative", "axis": null}, "text": {"field": "lab"}, "color": {"field": "f", "type": "nominal", "legend": null}}},
                {"transform": [{"filter": "datum.k === 'a'"}], "mark": {"type": "text", "fontSize": 11.8, "align": "left", "baseline": "middle", "color": "#111111"},
                 "encoding": {"x": {"field": "f", "type": "nominal", "axis": null}, "y": {"datum": 1.615, "type": "quantitative", "axis": null}, "text": {"field": "t1"}}},
                {"transform": [{"filter": "datum.k === 'a'"}], "mark": {"type": "text", "fontSize": 11.8, "align": "left", "baseline": "middle", "color": "#111111"},
                 "encoding": {"x": {"field": "f", "type": "nominal", "axis": null}, "y": {"datum": 1.484, "type": "quantitative", "axis": null}, "text": {"field": "t2"}}},
                {"transform": [{"filter": "datum.k === 'a'"}], "mark": {"type": "text", "fontSize": 11.5, "align": "center", "baseline": "middle", "color": "#1A1A1A"},
                 "encoding": {"y": {"datum": 1.771, "type": "quantitative", "axis": null}, "text": {"field": "c"}}}
              ]
            }
          ]
        },
        {
          "spacing": 6,
          "hconcat": [
            {
              "width": 355, "height": 262,
              "transform": [{"filter": "datum.c === 'InSPI2 Hypoxic'"}],
              "resolve": {"scale": {"xOffset": "independent"}},
              "layer": [
                {"transform": [{"filter": "datum.k === 'a'"}], "mark": {"type": "rect", "fill": "#E0E0E0"},
                 "encoding": {"y": {"datum": 1.682, "type": "quantitative", "axis": {"title": null, "values": [0, 0.2, 0.4, 0.6, 0.8, 1, 1.2, 1.4, 1.6], "format": ".1f"}}, "y2": {"datum": 1.86}}},
                {"transform": [{"filter": "datum.k === 'b'"}], "mark": {"type": "rule", "strokeWidth": 1.5},
                 "encoding": {"x": {"field": "f", "type": "nominal", "axis": {"title": null}}, "y": {"field": "lo", "type": "quantitative", "axis": {"title": null, "values": [0, 0.2, 0.4, 0.6, 0.8, 1, 1.2, 1.4, 1.6], "format": ".1f"}}, "y2": {"field": "hi"}, "color": {"field": "f", "type": "nominal", "legend": null}}},
                {"transform": [{"filter": "datum.k === 'b'"}], "mark": {"type": "bar", "fill": "white", "strokeWidth": 1.5, "width": 81},
                 "encoding": {"x": {"field": "f", "type": "nominal", "axis": {"title": null}}, "y": {"field": "q1", "type": "quantitative", "axis": {"title": null, "values": [0, 0.2, 0.4, 0.6, 0.8, 1, 1.2, 1.4, 1.6], "format": ".1f"}}, "y2": {"field": "q3"}, "stroke": {"field": "f", "type": "nominal", "legend": null}}},
                {"transform": [{"filter": "datum.k === 'b'"}], "mark": {"type": "bar", "fill": null, "strokeWidth": 2.5, "width": 81},
                 "encoding": {"x": {"field": "f", "type": "nominal", "axis": {"title": null}}, "y": {"field": "med", "type": "quantitative", "axis": {"title": null, "values": [0, 0.2, 0.4, 0.6, 0.8, 1, 1.2, 1.4, 1.6], "format": ".1f"}}, "y2": {"field": "med"}, "stroke": {"field": "f", "type": "nominal", "legend": null}}},
                {"transform": [{"filter": "isValid(datum.w)"}], "mark": {"type": "circle", "size": 30, "opacity": 0.95},
                 "encoding": {
                   "x": {"field": "f", "type": "nominal", "axis": {"title": null}, "scale": {"type": "band", "domain": ["Informational", "Operational"], "paddingInner": 0.5, "paddingOuter": 0.349}},
                   "xOffset": {"field": "j", "type": "quantitative", "scale": {"domain": [0, 10], "range": [24, 57]}},
                   "y": {"field": "w", "type": "quantitative", "scale": {"domain": [-0.084, 1.86], "nice": false, "zero": false},
                         "axis": {"title": null, "values": [0, 0.2, 0.4, 0.6, 0.8, 1, 1.2, 1.4, 1.6], "format": ".1f"}},
                   "color": {"field": "f", "type": "nominal", "legend": null}}},
                {"transform": [{"filter": "datum.k === 'a'"}], "mark": {"type": "rule", "color": "#111111", "strokeWidth": 1.3, "strokeDash": [6, 4]},
                 "encoding": {"y": {"datum": 1, "type": "quantitative", "axis": {"title": null, "values": [0, 0.2, 0.4, 0.6, 0.8, 1, 1.2, 1.4, 1.6], "format": ".1f"}}}},
                {"transform": [{"filter": "datum.k === 'b'"}], "mark": {"type": "text", "fontSize": 12, "dx": 32, "align": "center", "baseline": "middle"},
                 "encoding": {"x": {"field": "f", "type": "nominal", "axis": {"title": null}}, "y": {"datum": 1.2, "type": "quantitative", "axis": {"title": null, "values": [0, 0.2, 0.4, 0.6, 0.8, 1, 1.2, 1.4, 1.6], "format": ".1f"}}, "text": {"field": "lab"}, "color": {"field": "f", "type": "nominal", "legend": null}}},
                {"transform": [{"filter": "datum.k === 'a'"}], "mark": {"type": "text", "fontSize": 11.8, "align": "left", "baseline": "middle", "color": "#111111"},
                 "encoding": {"x": {"field": "f", "type": "nominal", "axis": {"title": null}}, "y": {"datum": 1.615, "type": "quantitative", "axis": {"title": null, "values": [0, 0.2, 0.4, 0.6, 0.8, 1, 1.2, 1.4, 1.6], "format": ".1f"}}, "text": {"field": "t1"}}},
                {"transform": [{"filter": "datum.k === 'a'"}], "mark": {"type": "text", "fontSize": 11.8, "align": "left", "baseline": "middle", "color": "#111111"},
                 "encoding": {"x": {"field": "f", "type": "nominal", "axis": {"title": null}}, "y": {"datum": 1.484, "type": "quantitative", "axis": {"title": null, "values": [0, 0.2, 0.4, 0.6, 0.8, 1, 1.2, 1.4, 1.6], "format": ".1f"}}, "text": {"field": "t2"}}},
                {"transform": [{"filter": "datum.k === 'a'"}], "mark": {"type": "text", "fontSize": 11.5, "align": "center", "baseline": "middle", "color": "#1A1A1A"},
                 "encoding": {"y": {"datum": 1.771, "type": "quantitative", "axis": {"title": null, "values": [0, 0.2, 0.4, 0.6, 0.8, 1, 1.2, 1.4, 1.6], "format": ".1f"}}, "text": {"field": "c"}}}
              ]
            },
            {
              "width": 355, "height": 262,
              "transform": [{"filter": "datum.c === 'InSPI2 Low Mg'"}],
              "resolve": {"scale": {"xOffset": "independent"}},
              "layer": [
                {"transform": [{"filter": "datum.k === 'a'"}], "mark": {"type": "rect", "fill": "#E0E0E0"},
                 "encoding": {"y": {"datum": 1.682, "type": "quantitative", "axis": null}, "y2": {"datum": 1.86}}},
                {"transform": [{"filter": "datum.k === 'b'"}], "mark": {"type": "rule", "strokeWidth": 1.5},
                 "encoding": {"x": {"field": "f", "type": "nominal", "axis": {"title": null}}, "y": {"field": "lo", "type": "quantitative", "axis": null}, "y2": {"field": "hi"}, "color": {"field": "f", "type": "nominal", "legend": null}}},
                {"transform": [{"filter": "datum.k === 'b'"}], "mark": {"type": "bar", "fill": "white", "strokeWidth": 1.5, "width": 81},
                 "encoding": {"x": {"field": "f", "type": "nominal", "axis": {"title": null}}, "y": {"field": "q1", "type": "quantitative", "axis": null}, "y2": {"field": "q3"}, "stroke": {"field": "f", "type": "nominal", "legend": null}}},
                {"transform": [{"filter": "datum.k === 'b'"}], "mark": {"type": "bar", "fill": null, "strokeWidth": 2.5, "width": 81},
                 "encoding": {"x": {"field": "f", "type": "nominal", "axis": {"title": null}}, "y": {"field": "med", "type": "quantitative", "axis": null}, "y2": {"field": "med"}, "stroke": {"field": "f", "type": "nominal", "legend": null}}},
                {"transform": [{"filter": "isValid(datum.w)"}], "mark": {"type": "circle", "size": 30, "opacity": 0.95},
                 "encoding": {
                   "x": {"field": "f", "type": "nominal", "axis": {"title": null}, "scale": {"type": "band", "domain": ["Informational", "Operational"], "paddingInner": 0.5, "paddingOuter": 0.349}},
                   "xOffset": {"field": "j", "type": "quantitative", "scale": {"domain": [0, 10], "range": [24, 57]}},
                   "y": {"field": "w", "type": "quantitative", "scale": {"domain": [-0.084, 1.86], "nice": false, "zero": false}, "axis": null},
                   "color": {"field": "f", "type": "nominal", "legend": null}}},
                {"transform": [{"filter": "datum.k === 'a'"}], "mark": {"type": "rule", "color": "#111111", "strokeWidth": 1.3, "strokeDash": [6, 4]},
                 "encoding": {"y": {"datum": 1, "type": "quantitative", "axis": null}}},
                {"transform": [{"filter": "datum.k === 'b'"}], "mark": {"type": "text", "fontSize": 12, "dx": 32, "align": "center", "baseline": "middle"},
                 "encoding": {"x": {"field": "f", "type": "nominal", "axis": {"title": null}}, "y": {"datum": 1.2, "type": "quantitative", "axis": null}, "text": {"field": "lab"}, "color": {"field": "f", "type": "nominal", "legend": null}}},
                {"transform": [{"filter": "datum.k === 'a'"}], "mark": {"type": "text", "fontSize": 11.8, "align": "left", "baseline": "middle", "color": "#111111"},
                 "encoding": {"x": {"field": "f", "type": "nominal", "axis": {"title": null}}, "y": {"datum": 1.615, "type": "quantitative", "axis": null}, "text": {"field": "t1"}}},
                {"transform": [{"filter": "datum.k === 'a'"}], "mark": {"type": "text", "fontSize": 11.8, "align": "left", "baseline": "middle", "color": "#111111"},
                 "encoding": {"x": {"field": "f", "type": "nominal", "axis": {"title": null}}, "y": {"datum": 1.484, "type": "quantitative", "axis": null}, "text": {"field": "t2"}}},
                {"transform": [{"filter": "datum.k === 'a'"}], "mark": {"type": "text", "fontSize": 11.5, "align": "center", "baseline": "middle", "color": "#1A1A1A"},
                 "encoding": {"y": {"datum": 1.771, "type": "quantitative", "axis": null}, "text": {"field": "c"}}}
              ]
            }
          ]
        }
      ]
    }
  ],
  "config": {
    "font": "Liberation Sans",
    "view": {"fill": "#F2F2F2", "stroke": null},
    "range": {"category": ["#E4685B", "#6F8C97"]},
    "axis": {"grid": false, "domain": false, "tickColor": "#333333", "tickSize": 4, "tickWidth": 1,
             "labelColor": "#4D4D4D", "labelFontSize": 11},
    "axisY": {"labelPadding": 2},
    "axisX": {"labelFontSize": 11.5, "labelPadding": 2, "labelAngle": 0}
  }
}
